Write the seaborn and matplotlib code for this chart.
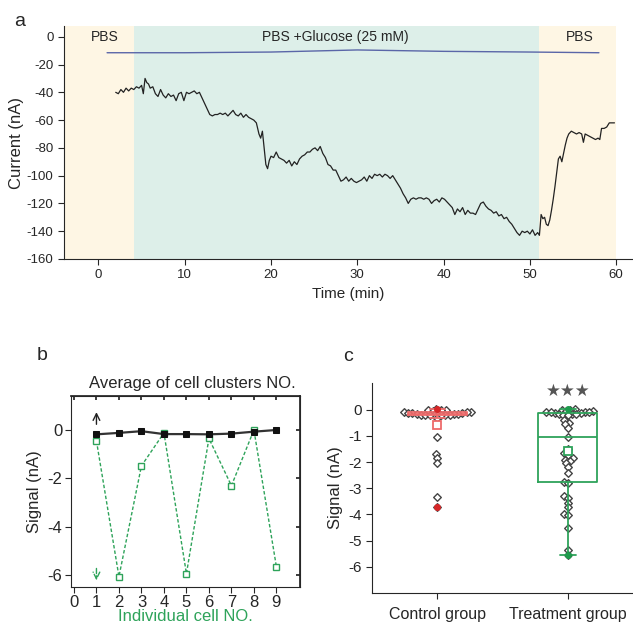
import numpy as np
import pandas as pd
import seaborn as sns
import matplotlib.pyplot as plt

# ---- panel a: current trace ----
trace_time = [2.0, 2.3, 2.6, 2.9, 3.2, 3.5, 3.8, 4.1, 4.4, 4.7, 5.0, 5.2, 5.4, 5.6, 5.8, 6.0, 6.3, 6.6, 6.9,
              7.2, 7.5, 7.8, 8.1, 8.4, 8.7, 9.0, 9.3, 9.6, 9.9, 10.2, 10.5, 10.8, 11.1, 11.4, 11.7, 12.0,
              12.3, 12.6, 12.9, 13.2, 13.5, 13.8, 14.1, 14.4, 14.7, 15.0, 15.3, 15.6, 15.9, 16.2, 16.5,
              16.8, 17.1, 17.4, 17.7, 18.0, 18.3, 18.6, 18.8, 19.0, 19.2, 19.4, 19.6, 19.8, 20.0, 20.3,
              20.6, 20.9, 21.2, 21.5, 21.8, 22.1, 22.4, 22.7, 23.0, 23.3, 23.6, 23.9, 24.2, 24.5, 24.8,
              25.1, 25.4, 25.7, 26.0, 26.3, 26.6, 26.9, 27.2, 27.5, 27.8, 28.1, 28.4, 28.7, 29.0, 29.3,
              29.6, 29.9, 30.2, 30.5, 30.8, 31.1, 31.4, 31.7, 32.0, 32.3, 32.6, 32.9, 33.2, 33.5, 33.8,
              34.1, 34.4, 34.7, 35.0, 35.3, 35.6, 35.9, 36.2, 36.5, 36.8, 37.1, 37.4, 37.7, 38.0, 38.3,
              38.6, 38.9, 39.2, 39.5, 39.8, 40.1, 40.4, 40.7, 41.0, 41.3, 41.6, 41.9, 42.2, 42.5, 42.8,
              43.1, 43.4, 43.7, 44.0, 44.3, 44.6, 44.9, 45.2, 45.5, 45.8, 46.1, 46.4, 46.7, 47.0, 47.3,
              47.6, 47.9, 48.2, 48.5, 48.8, 49.1, 49.4, 49.7, 50.0, 50.3, 50.6, 50.9, 51.1, 51.3, 51.5,
              51.7, 51.9, 52.1, 52.3, 52.5, 52.7, 52.9, 53.1, 53.3, 53.5, 53.7, 53.9, 54.1, 54.3, 54.5,
              54.8, 55.1, 55.4, 55.7, 56.0, 56.2, 56.4, 56.7, 57.0, 57.3, 57.6, 57.9, 58.1, 58.3, 58.6,
              58.9, 59.2, 59.5, 59.8]
trace_current = [-40, -41, -38, -40, -37, -39, -37, -38, -36, -37, -35, -41, -30, -33, -34, -37, -36, -41, -43,
                 -38, -42, -44, -41, -43, -42, -46, -41, -40, -46, -40, -41, -40, -39, -41, -40, -44,
                 -48, -52, -56, -57, -56, -56, -55, -56, -55, -57, -55, -53, -56, -57, -55,
                 -58, -56, -58, -59, -60, -62, -70, -73, -68, -80, -92, -95, -89, -86, -87,
                 -83, -87, -88, -89, -91, -89, -93, -90, -92, -88, -86, -85, -83, -83, -81,
                 -80, -82, -79, -84, -87, -92, -93, -96, -96, -100, -104, -103, -101, -104, -102,
                 -104, -105, -104, -103, -101, -104, -100, -102, -99, -100, -99, -101, -99, -100, -102,
                 -100, -103, -106, -109, -113, -116, -120, -117, -116, -117, -116, -116, -117, -116, -117,
                 -120, -118, -117, -119, -116, -117, -119, -121, -123, -128, -124, -126, -123, -128, -125,
                 -127, -127, -128, -124, -120, -119, -122, -124, -125, -127, -126, -129, -128, -131, -130,
                 -133, -135, -138, -141, -143, -140, -141, -140, -142, -139, -143, -141, -143, -128, -131,
                 -130, -135, -136, -132, -125, -117, -108, -98, -88, -86, -90, -84, -78, -73, -70,
                 -68, -69, -70, -69, -70, -76, -70, -71, -72, -73, -74, -73, -74, -66, -66,
                 -65, -62, -62, -62]
baseline_time = [1, 10, 20, 30, 40, 50, 58]
baseline_current = [-11.5, -11.5, -11, -9.5, -10.5, -11, -11.5]

# ---- panel b ----
cell_no = [1, 2, 3, 4, 5, 6, 7, 8, 9]
cluster_avg = [-0.18, -0.12, -0.05, -0.17, -0.17, -0.18, -0.15, -0.07, 0.0]
single_cell = [-0.45, -6.05, -1.48, -0.12, -5.93, -0.35, -2.3, 0.0, -5.65]

# ---- panel c ----
control = [0.05, 0.0, 0.0, -0.02, -0.05, -0.08, -0.08, -0.1, -0.1, -0.12, -0.12, -0.12, -0.15, -0.15,
           -0.15, -0.18, -0.18, -0.2, -0.2, -0.2, -0.2, -0.2, -0.3,
           -1.05, -1.7, -1.85, -2.05, -3.35, -3.72]
treatment = [0.05, 0.0, -0.02, -0.05, -0.05, -0.08, -0.1, -0.1, -0.12, -0.12, -0.15, -0.15, -0.15, -0.18,
             -0.2, -0.1, -0.4, -0.5, -0.55, -0.68, -1.05, -1.48, -1.65, -1.72, -1.85, -1.9, -1.95, -2.05,
             -2.2, -2.42, -2.75, -2.8, -3.3, -3.38, -3.55, -3.72, -3.98, -4.02, -4.5, -5.35, -5.55]
groups = ['Control group', 'Treatment group']

sns.set_theme(style='ticks')
plt.rcParams['font.family'] = ['Liberation Sans', 'DejaVu Sans']
plt.rcParams['axes.unicode_minus'] = False

fig = plt.figure(figsize=(6.33, 6.24), dpi=100)

# ================= panel a =================
ax_a = fig.add_axes([0.101, 0.585, 0.897, 0.373])
ax_a.axvspan(-4, 4.1, color='#fef6e4', lw=0, zorder=0)
ax_a.axvspan(4.1, 51.1, color='#ddefe9', lw=0, zorder=0)
ax_a.axvspan(51.1, 60, color='#fef6e4', lw=0, zorder=0)
sns.lineplot(x=baseline_time, y=baseline_current, ax=ax_a, color='#5a66a8', lw=1.0)
sns.lineplot(x=trace_time, y=trace_current, ax=ax_a, color='#222222', lw=0.9)
ax_a.text(0.7, 0, 'PBS', ha='center', va='center', fontsize=10)
ax_a.text(27.5, 0, 'PBS +Glucose (25 mM)', ha='center', va='center', fontsize=10)
ax_a.text(55.8, 0, 'PBS', ha='center', va='center', fontsize=10)
ax_a.set_xlim(-4, 61.8)
ax_a.set_ylim(-160, 7.6)
ax_a.set_xticks(range(0, 61, 10))
ax_a.set_yticks(range(-160, 1, 20))
ax_a.tick_params(labelsize=9.5, length=4, width=0.8)
ax_a.set_xlabel('Time (min)', fontsize=11)
ax_a.set_ylabel('Current (nA)', fontsize=12, labelpad=2)
sns.despine(ax=ax_a)
for s in ax_a.spines.values():
    s.set_linewidth(0.8)
fig.text(0.022, 0.965, 'a', fontsize=14, va='center')

# ================= panel b =================
ax_b = fig.add_axes([0.1115, 0.0593, 0.3625, 0.306])
sns.lineplot(x=cell_no, y=single_cell, ax=ax_b, color='#2ea35a', lw=1.0, linestyle=(0, (2.5, 1.5)),
             marker='s', markersize=5, markerfacecolor='white', markeredgecolor='#2ea35a', markeredgewidth=1)
sns.lineplot(x=cell_no, y=cluster_avg, ax=ax_b, color='#333333', lw=1.6,
             marker='s', markersize=5, markerfacecolor='#111111', markeredgecolor='#111111')
ax_b.annotate('', xy=(1, 0.85), xytext=(1, 0.12),
              arrowprops=dict(arrowstyle='->', color='#222222', lw=1))
ax_b.annotate('', xy=(1, -6.32), xytext=(1, -5.6),
              arrowprops=dict(arrowstyle='->', color='#2ea35a', lw=1, linestyle='--'))
ax_b.set_xlim(-0.15, 10.05)
ax_b.set_ylim(-6.48, 1.4)
ax_b.set_xticks(range(0, 10))
ax_b.set_yticks([0, -2, -4, -6])
ax_b.tick_params(labelsize=12, length=4, width=0.8, pad=2)
top = ax_b.secondary_xaxis('top')
top.set_xticks(range(0, 10))
top.tick_params(direction='in', labeltop=False, length=3)
right = ax_b.secondary_yaxis('right')
right.set_yticks([0, -2, -4, -6])
right.tick_params(direction='in', labelright=False, length=3)
ax_b.set_xlabel('Individual cell NO.', fontsize=12, color='#2ea35a', labelpad=-1)
ax_b.set_ylabel('Signal (nA)', fontsize=12, labelpad=4)
ax_b.set_title('Average of cell clusters NO.', fontsize=12, pad=6, x=0.53)
for s in ax_b.spines.values():
    s.set_linewidth(0.8)
fig.text(0.058, 0.431, 'b', fontsize=14, va='center')

# ================= panel c =================
df = pd.DataFrame({
    'group': ['Control group'] * len(control) + ['Treatment group'] * len(treatment),
    'signal': control + treatment,
})
palette = {'Control group': '#ee6b6b', 'Treatment group': '#2ea35a'}

ax_c = fig.add_axes([0.588, 0.0497, 0.412, 0.3363])
sns.boxplot(data=df, x='group', y='signal', hue='group', palette=palette, order=groups,
            fill=False, width=0.45, showfliers=False, linewidth=1.3, ax=ax_c, legend=False,
            capwidths=0.12)
# keep the box outlines above the points, as in the original
for art in ax_c.lines + ax_c.patches:
    art.set_zorder(4)
ax_c.set_xlim(-0.56, 1.5)
ax_c.set_ylim(-7, 1.02)

# swarm laid out with small markers (tight, like the original), then redrawn with larger diamonds
n_before = len(ax_c.collections)
sns.swarmplot(data=df, x='group', y='signal', order=groups, marker='D', color='white',
              edgecolor='#444444', linewidth=1.0, size=2.0, ax=ax_c, warn_thresh=1)
fig.canvas.draw()
swarm_colls = ax_c.collections[n_before:]
for coll in list(swarm_colls):
    offs = np.asarray(coll.get_offsets())
    coll.remove()
    ax_c.scatter(offs[:, 0], offs[:, 1], marker='D', s=15, facecolor='white',
                 edgecolor='#444444', linewidth=1.0, zorder=3)

stats = df.groupby('group')['signal'].agg(['mean', 'min', 'max']).reindex(groups)
for i, g in enumerate(groups):
    c = '#d62728' if i == 0 else '#1e9a4c'
    ax_c.plot(i, stats.loc[g, 'mean'], 's', mfc='white', mec=palette[g], ms=6, mew=1.3, zorder=5)
    ax_c.plot([i, i], [stats.loc[g, 'min'], stats.loc[g, 'max']], 'o', color=c, ms=4, zorder=5, lw=0)
ax_c.text(1, 0.7, '\u2605\u2605\u2605', ha='center', va='center', fontsize=12, color='#555555')
ax_c.set_yticks([0, -1, -2, -3, -4, -5, -6])
ax_c.tick_params(labelsize=11, length=4, width=0.8)
ax_c.tick_params(axis='x', labelsize=11.5, pad=6)
ax_c.set_xlabel('')
ax_c.set_ylabel('Signal (nA)', fontsize=12)
sns.despine(ax=ax_c)
for s in ax_c.spines.values():
    s.set_linewidth(0.8)
fig.text(0.542, 0.428, 'c', fontsize=14, va='center')

fig.savefig('out.png', dpi=100)
